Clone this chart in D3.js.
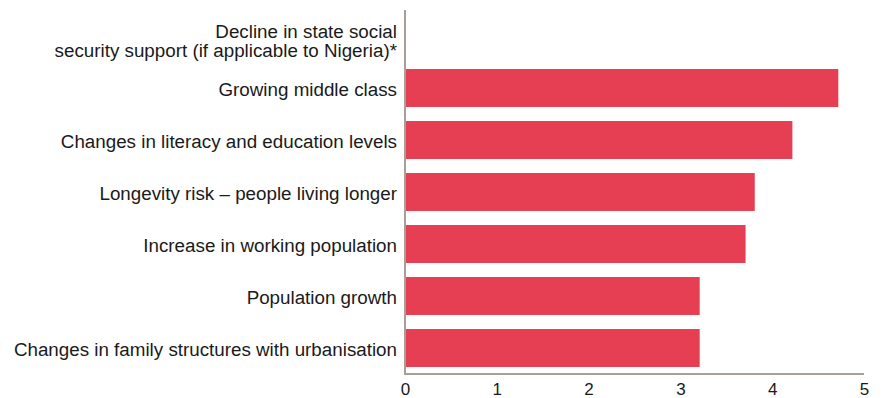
<!DOCTYPE html>
<html>
<head>
<meta charset="utf-8">
<script src="https://cdn.jsdelivr.net/npm/d3@7"></script>
<style>
  html, body { margin: 0; padding: 0; background: #fff; }
  svg text { font-family: "Liberation Sans", Arial, Helvetica, sans-serif; fill: #1a1a1a; }
</style>
</head>
<body>
<svg id="chart" width="883" height="398"></svg>
<script>
const categories = [
  "Decline in state social\nsecurity support (if applicable to Nigeria)*",
  "Growing middle class",
  "Changes in literacy and education levels",
  "Longevity risk – people living longer",
  "Increase in working population",
  "Population growth",
  "Changes in family structures with urbanisation"
];
const values = [0, 4.72, 4.22, 3.81, 3.71, 3.21, 3.21];
const tickValues = [0, 1, 2, 3, 4, 5];

const svg = d3.select("#chart");
const plotLeft = 405, plotRight = 864, plotTop = 10, plotBottom = 374;

const x = d3.scaleLinear().domain([0, 5]).range([plotLeft, plotRight]);
const y = d3.scaleBand().domain(categories).range([plotTop, plotBottom]).paddingInner(0.27).paddingOuter(0.135);

// bars
svg.append("g").selectAll("rect")
  .data(categories)
  .join("rect")
  .attr("x", x(0))
  .attr("y", d => y(d))
  .attr("width", (d, i) => x(values[i]) - x(0))
  .attr("height", y.bandwidth())
  .attr("fill", "#e63e52");

// axis lines
const axisColor = "#a89f97";
svg.append("line")
  .attr("x1", x(0)).attr("x2", x(0))
  .attr("y1", plotTop).attr("y2", plotBottom + 1)
  .attr("stroke", axisColor).attr("stroke-width", 2);
svg.append("line")
  .attr("x1", x(0) - 1).attr("x2", x(5))
  .attr("y1", plotBottom).attr("y2", plotBottom)
  .attr("stroke", axisColor).attr("stroke-width", 2);

// x tick labels
const xAxis = svg.append("g")
  .attr("transform", `translate(0,${plotBottom})`)
  .call(d3.axisBottom(x).tickValues(tickValues).tickSize(0).tickFormat(d3.format("d")));
xAxis.select(".domain").remove();
xAxis.selectAll("text")
  .attr("y", 21).attr("dy", null)
  .attr("font-size", 17).attr("fill", "#1a1a1a")
  .style("font-family", "'Liberation Sans', Arial, sans-serif");

// category labels
const lab = svg.append("g");
categories.forEach((c, i) => {
  const lines = c.split("\n");
  const cy = y(c) + y.bandwidth() / 2 + 1.5;
  const lh = 19;
  const t = lab.append("text")
    .attr("x", x(0) - 8)
    .attr("text-anchor", "end")
    .attr("font-size", 18.8);
  lines.forEach((ln, j) => {
    t.append("tspan")
      .attr("x", x(0) - 8)
      .attr("y", cy + (j - (lines.length - 1) / 2) * lh + (lines.length > 1 ? 3 : 0))
      .attr("dy", "0.35em")
      .text(ln);
  });
});
</script>
</body>
</html>
